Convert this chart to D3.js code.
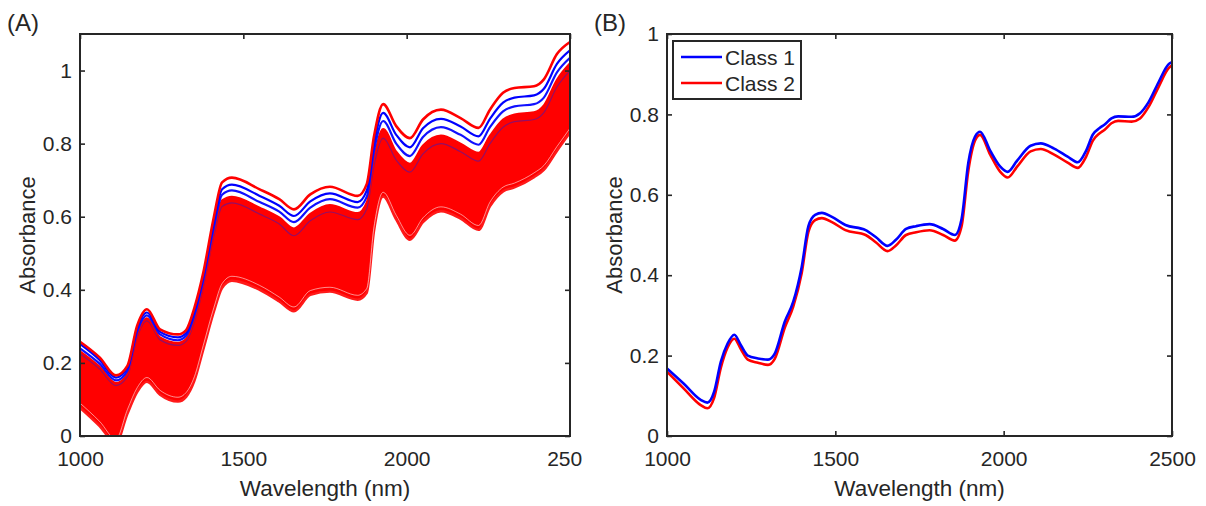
<!DOCTYPE html>
<html>
<head>
<meta charset="utf-8">
<script src="https://cdn.jsdelivr.net/npm/d3@7"></script>
<style>
body { margin: 0; background: #fff; }
text { font-family: "Liberation Sans", Arial, sans-serif; fill: #262626; }
</style>
</head>
<body>
<svg id="fig" width="1206" height="506"></svg>
<script>
// ---- data ----
// panel A: individual spectra / envelope of the many spectra
var wlA = [1000, 1060, 1110, 1145, 1175, 1205, 1245, 1300, 1325, 1350, 1377, 1410, 1435, 1465, 1550, 1610, 1655, 1705, 1765, 1850, 1878, 1900, 1928, 1968, 2010, 2050, 2105, 2165, 2220, 2255, 2295, 2330, 2390, 2420, 2460, 2500];
var aTop = [.258, .215, .166, .192, .302, .347, .292, .278, .290, .350, .445, .600, .694, .707, .675, .648, .620, .661, .682, .657, .690, .820, .908, .848, .815, .866, .893, .870, .843, .893, .939, .952, .957, .976, 1.045, 1.078];
var aBlue1 = [.252, .208, .160, .186, .295, .338, .285, .270, .282, .340, .435, .585, .675, .688, .657, .630, .602, .642, .664, .640, .672, .800, .884, .824, .790, .842, .868, .847, .820, .868, .912, .926, .932, .950, 1.018, 1.055];
var aBlue2 = [.240, .198, .152, .178, .285, .330, .278, .262, .274, .330, .425, .572, .660, .672, .640, .614, .585, .625, .648, .625, .655, .780, .862, .800, .766, .818, .845, .824, .797, .845, .888, .902, .908, .926, .995, 1.035];
var aBandTop = [.232, .190, .145, .170, .277, .322, .270, .255, .266, .320, .415, .560, .645, .655, .625, .598, .568, .608, .632, .610, .640, .760, .840, .778, .745, .795, .822, .800, .775, .822, .866, .880, .886, .905, .975, 1.020];
var aBlue3 = [.225, .183, .138, .163, .270, .315, .263, .248, .259, .312, .405, .548, .628, .638, .607, .580, .548, .589, .613, .592, .622, .740, .815, .755, .722, .772, .800, .778, .752, .800, .845, .860, .866, .885, .955, 1.000];
var aLowGap = [.090, .040, -.008, .072, .132, .160, .125, .106, .119, .162, .247, .352, .417, .437, .412, .380, .353, .398, .407, .385, .404, .572, .667, .604, .549, .597, .627, .607, .576, .640, .681, .692, .720, .740, .792, .842];
var aBottom = [.077, .027, -.020, .060, .120, .148, .113, .094, .107, .150, .235, .340, .405, .425, .400, .368, .341, .386, .395, .373, .392, .560, .655, .592, .537, .585, .615, .595, .564, .628, .669, .680, .708, .728, .780, .830];

// panel B: class means
var wlB = [1000, 1050, 1100, 1120, 1140, 1160, 1180, 1200, 1220, 1240, 1270, 1300, 1320, 1350, 1375, 1400, 1420, 1440, 1460, 1490, 1530, 1590, 1620, 1655, 1680, 1710, 1740, 1780, 1820, 1855, 1875, 1895, 1915, 1930, 1960, 1990, 2012, 2040, 2080, 2110, 2150, 2190, 2220, 2245, 2265, 2285, 2300, 2320, 2340, 2380, 2405, 2430, 2460, 2490, 2500];
var class1 = [.168, .130, .090, .083, .110, .185, .230, .252, .225, .200, .193, .190, .205, .285, .334, .420, .522, .550, .555, .545, .525, .512, .495, .473, .488, .515, .522, .527, .515, .500, .540, .680, .745, .757, .710, .670, .657, .685, .722, .728, .715, .695, .681, .710, .750, .766, .775, .790, .795, .794, .803, .830, .880, .925, .930];
var class2 = [.160, .118, .077, .069, .095, .170, .220, .242, .215, .190, .182, .177, .192, .270, .322, .405, .508, .537, .542, .532, .512, .500, .482, .460, .474, .500, .507, .512, .500, .486, .522, .660, .735, .749, .700, .657, .643, .670, .708, .714, .700, .680, .667, .695, .735, .753, .762, .778, .784, .782, .790, .818, .868, .915, .922];
var classNames = ["Class 1", "Class 2"];

var xTicks = [1000, 1500, 2000, 2500];
var yTicks = [0, 0.2, 0.4, 0.6, 0.8, 1];

var dark = "#262626";
var svg = d3.select("#fig");

function makePanel(id, left, right, top, bottom, ymax, label, labelX) {
    var p = {};
    p.x = d3.scaleLinear().domain([1000, 2500]).range([left, right]);
    p.y = d3.scaleLinear().domain([0, ymax]).range([bottom, top]);
    p.g = svg.append("g");

    svg.append("clipPath").attr("id", "clip" + id)
        .append("rect")
        .attr("x", left).attr("y", top)
        .attr("width", right - left).attr("height", bottom - top);
    p.plot = p.g.append("g").attr("clip-path", "url(#clip" + id + ")");

    var fmt = d3.format("~g");
    var ax = p.g.append("g").attr("transform", "translate(0," + bottom + ")")
        .call(d3.axisBottom(p.x).tickValues(xTicks).tickSizeInner(-5).tickSizeOuter(0).tickPadding(15).tickFormat(d3.format("d")));
    var ay = p.g.append("g").attr("transform", "translate(" + left + ",0)")
        .call(d3.axisLeft(p.y).tickValues(yTicks).tickSizeInner(-5).tickSizeOuter(0).tickPadding(8).tickFormat(fmt));
    var at = p.g.append("g").attr("transform", "translate(0," + top + ")")
        .call(d3.axisTop(p.x).tickValues(xTicks).tickSizeInner(-5).tickSizeOuter(0).tickFormat(""));
    var ar = p.g.append("g").attr("transform", "translate(" + right + ",0)")
        .call(d3.axisRight(p.y).tickValues(yTicks).tickSizeInner(-5).tickSizeOuter(0).tickFormat(""));
    [ax, ay, at, ar].forEach(function(a) {
        a.select(".domain").remove();
        a.selectAll(".tick line").attr("stroke", dark).attr("stroke-width", 1.6);
        a.selectAll(".tick text").attr("font-size", 21).style("fill", dark)
            .attr("font-family", "Liberation Sans, Arial, sans-serif");
    });
    p.ax = ax;

    p.g.append("rect")
        .attr("x", left).attr("y", top)
        .attr("width", right - left).attr("height", bottom - top)
        .attr("fill", "none").attr("stroke", dark).attr("stroke-width", 2);

    p.g.append("text")
        .attr("x", (left + right) / 2).attr("y", 496)
        .attr("text-anchor", "middle").attr("font-size", 22.5)
        .text("Wavelength (nm)");
    p.g.append("text")
        .attr("transform", "translate(" + (left - 45) + "," + ((top + bottom) / 2) + ") rotate(-90)")
        .attr("text-anchor", "middle").attr("font-size", 22)
        .text("Absorbance");
    svg.append("text")
        .attr("x", labelX).attr("y", 31)
        .attr("font-size", 24)
        .text(label);
    return p;
}

// ---- panel A ----
var A = makePanel("A", 80, 570, 34, 436, 1.1, "(A)", 7);
// clip the cut-off "2500" label like in the figure
svg.append("clipPath").attr("id", "clipLab")
    .append("rect").attr("x", 0).attr("y", 0).attr("width", 582).attr("height", 506);
A.ax.attr("clip-path", "url(#clipLab)");

var areaA = d3.area()
    .x(function(d, i) { return A.x(wlA[i]); })
    .y0(function(d, i) { return A.y(aBottom[i]); })
    .y1(function(d, i) { return A.y(d); })
    .curve(d3.curveMonotoneX);
var lineA = d3.line()
    .x(function(d, i) { return A.x(wlA[i]); })
    .y(function(d) { return A.y(d); })
    .curve(d3.curveMonotoneX);

A.plot.append("path").datum(aBandTop).attr("d", areaA).attr("fill", "#ff0000");
A.plot.append("path").datum(aBottom).attr("d", lineA)
    .attr("fill", "none").attr("stroke", "#ff1a1a").attr("stroke-width", 2.4);
A.plot.append("path").datum(aLowGap).attr("d", lineA)
    .attr("fill", "none").attr("stroke", "#ffffff").attr("stroke-width", 1).attr("opacity", 0.55);
A.plot.append("path").datum(aBlue3).attr("d", lineA)
    .attr("fill", "none").attr("stroke", "#2a1acc").attr("stroke-width", 1.2).attr("opacity", 0.5);
A.plot.append("path").datum(aBandTop).attr("d", lineA)
    .attr("fill", "none").attr("stroke", "#ff0000").attr("stroke-width", 2);
A.plot.append("path").datum(aBlue2).attr("d", lineA)
    .attr("fill", "none").attr("stroke", "#1010ff").attr("stroke-width", 2.2);
A.plot.append("path").datum(aBlue1).attr("d", lineA)
    .attr("fill", "none").attr("stroke", "#0000ff").attr("stroke-width", 2.2);
A.plot.append("path").datum(aTop).attr("d", lineA)
    .attr("fill", "none").attr("stroke", "#ff0000").attr("stroke-width", 2.6);

// ---- panel B ----
var B = makePanel("B", 667, 1172, 34, 436, 1, "(B)", 594);
var lineB = d3.line()
    .x(function(d, i) { return B.x(wlB[i]); })
    .y(function(d) { return B.y(d); })
    .curve(d3.curveMonotoneX);
var colors = ["#0000ff", "#ff0000"];
[class2, class1].forEach(function(s, k) {
    B.plot.append("path").datum(s).attr("d", lineB)
        .attr("fill", "none").attr("stroke", k == 0 ? colors[1] : colors[0])
        .attr("stroke-width", 2.6).attr("stroke-linejoin", "round");
});

// legend
var leg = svg.append("g");
leg.append("rect")
    .attr("x", 673).attr("y", 41).attr("width", 128).attr("height", 58)
    .attr("fill", "#fff").attr("stroke", dark).attr("stroke-width", 2);
classNames.forEach(function(name, i) {
    var yy = 57 + i * 26;
    leg.append("line")
        .attr("x1", 681).attr("x2", 722).attr("y1", yy).attr("y2", yy)
        .attr("stroke", colors[i]).attr("stroke-width", 2.4);
    leg.append("text")
        .attr("x", 725).attr("y", yy + 7.5)
        .attr("font-size", 21)
        .text(name);
});
</script>
</body>
</html>
